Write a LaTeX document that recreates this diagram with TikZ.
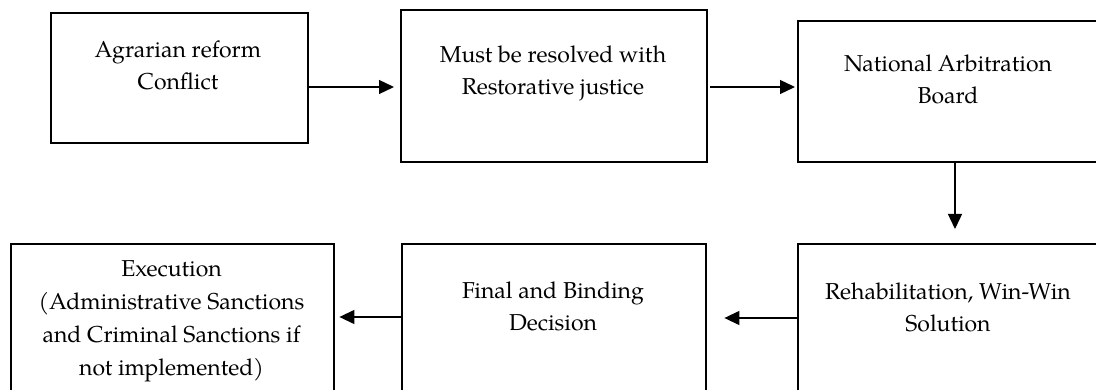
\documentclass[tikz,border=0pt]{standalone}
\usepackage{fontspec}
\setmainfont{TeX Gyre Pagella}
\usetikzlibrary{arrows.meta}
\begin{document}
\begin{tikzpicture}[x=1pt,y=-1pt,
  box/.style={draw,line width=2.4pt,inner sep=0pt,anchor=north west},
  txt/.style={align=center,font=\fontsize{23}{32}\selectfont,inner sep=0pt},
  arr/.style={line width=1.3pt,-{Triangle[length=15pt,width=14pt]}}]
\useasboundingbox (0,0) rectangle (1096,390);
\clip (0,0) rectangle (1096,390);
\node[box,minimum width=257pt,minimum height=130pt] (b1) at (50,12) {};
\node[box,minimum width=306pt,minimum height=152pt] (b2) at (400,9) {};
\node[box,minimum width=305pt,minimum height=141pt] (b3) at (797,20) {};
\node[box,minimum width=305pt,minimum height=170pt] (b4) at (797,243) {};
\node[box,minimum width=304pt,minimum height=170pt] (b5) at (401,243) {};
\node[box,minimum width=323pt,minimum height=170pt] (b6) at (10,243) {};
\node[txt] (t1) at (178,65) {Agrarian reform\\Conflict};
\node[txt] (t2) at (553,73) {Must be resolved with\\Restorative justice};
\node[txt] (t3) at (948,79) {National Arbitration\\Board};
\node[txt] (t4) at (948,307) {Rehabilitation, Win-Win\\Solution};
\node[txt] (t5) at (553,306) {Final and Binding\\Decision};
\node[txt,font=\fontsize{23}{33}\selectfont] (t6) at (171.5,321) {Execution\\(Administrative Sanctions\\and Criminal Sanctions if\\not implemented)};
\coordinate (a1) at (307,87);
\coordinate (a2) at (708,87);
\coordinate (a3) at (955,161);
\coordinate (a4) at (797,318);
\coordinate (a5) at (401,317);
\draw[arr,shorten >=6pt] (a1) -- (a1 -| b2.west);
\draw[arr,shorten >=2pt,shorten <=2pt] (a2) -- (a2 -| b3.west);
\draw[arr,shorten >=14pt] (a3) -- (a3 |- b4.north);
\draw[arr,shorten >=17pt] (a4) -- (a4 -| b5.east);
\draw[arr,shorten >=4pt] (a5) -- (a5 -| b6.east);
\end{tikzpicture}
\end{document}
